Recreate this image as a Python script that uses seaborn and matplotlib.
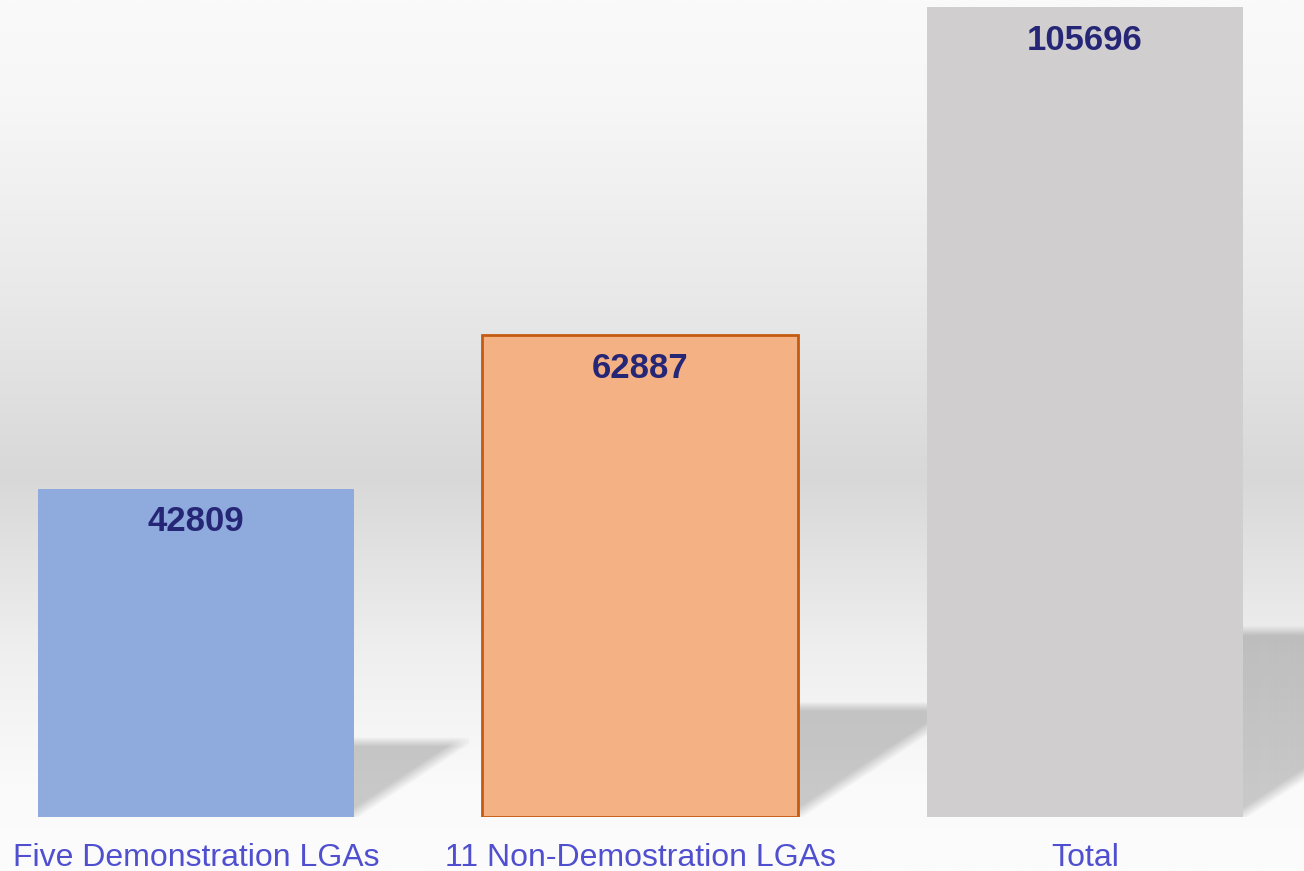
import numpy as np
import pandas as pd
import matplotlib
matplotlib.use('Agg')
import matplotlib.pyplot as plt
import seaborn as sns
from matplotlib.colors import LinearSegmentedColormap

# data
categories = ['Five Demonstration LGAs', '11 Non-Demostration LGAs', 'Total']
values = [42809, 62887, 105696]
bar_colors = ['#8faadc', '#f4b183', '#d0cece']

df = pd.DataFrame({'group': categories, 'count': values})

sns.set_theme(style='white')
plt.rcParams['font.family'] = ['Liberation Sans', 'DejaVu Sans']

W, H = 1304, 871
fig = plt.figure(figsize=(W / 100, H / 100), dpi=100)

# background gradient (light top, grey band in the middle, light bottom)
bg = fig.add_axes([0, 0, 1, 1], zorder=-1)
stops = [(0.0, '#fafafa'), (0.11, '#f7f7f7'), (0.34, '#e9e9e9'),
         (0.55, '#d8d8d8'), (0.75, '#efefef'), (0.9, '#fafafa'), (1.0, '#fcfcfc')]
cmap = LinearSegmentedColormap.from_list('bg', stops)
grad = np.linspace(0, 1, 512).reshape(-1, 1)
bg.imshow(grad, aspect='auto', cmap=cmap, extent=[0, 1, 1, 0])
bg.set_axis_off()

# main axes: baseline at 817px from top, top of tallest bar at 7px
ax = fig.add_axes([0, 54 / H, 1, 810 / H])
ax.patch.set_alpha(0)
xmin, xmax = -0.441, 2.493
ymax = max(values)

bar_w = 0.711
sns.barplot(data=df, x='group', y='count', hue='group', palette=bar_colors,
            width=bar_w, saturation=1, legend=False, ax=ax, zorder=3,
            linewidth=0)
ax.set_xlim(xmin, xmax)
ax.set_ylim(0, ymax)

# orange bar has a darker outline
ax.patches[1].set_edgecolor('#c55a11')
ax.patches[1].set_linewidth(2)

# perspective shadows behind the bars
xpx = W / (xmax - xmin)   # pixels per x unit
ypx = 810 / ymax          # pixels per y unit
slope = 0.66
for i, v in enumerate(values):
    h_px = 0.23 * v * ypx
    w_px = h_px / slope
    nx, ny = int(w_px) + 1, int(h_px) + 12
    u = np.arange(nx)[None, :] + 0.5
    vv = (ny - np.arange(ny)[:, None]) - 0.5
    top = np.clip((h_px - vv) / 10 + 0.5, 0, 1)
    diag = np.clip((vv - slope * u) / 14 + 0.3, 0, 1)
    alpha = 0.2 * top * diag
    img = np.zeros((ny, nx, 4))
    img[..., 3] = alpha
    x0 = i + bar_w / 2
    ax.imshow(img, extent=[x0, x0 + nx / xpx, 0, ny / ypx], aspect='auto',
              zorder=1, interpolation='bilinear')
ax.set_xlim(xmin, xmax)
ax.set_ylim(0, ymax)

# value labels inside the bars
for i, v in enumerate(values):
    ax.text(i, v - 33 / ypx, f'{v}', ha='center', va='center',
            fontsize=25, fontweight='bold', color='#262676', zorder=5)

ax.set_xlabel('')
ax.set_ylabel('')
ax.set_yticks([])
ax.tick_params(axis='x', length=0, pad=19, labelsize=23, labelcolor='#4f4fd0')
sns.despine(ax=ax, left=True, bottom=True)

fig.savefig('out.png', dpi=100)
